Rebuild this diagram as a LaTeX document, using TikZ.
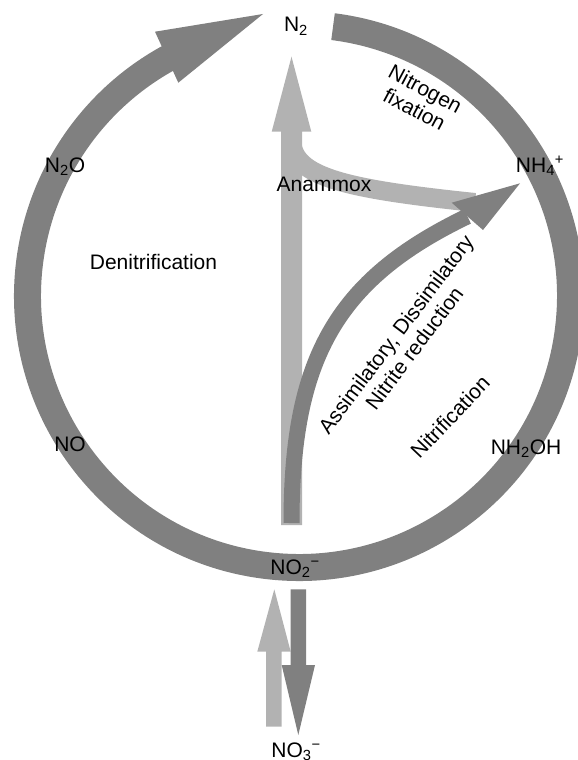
\documentclass[tikz,border=0pt]{standalone}
\usepackage{fontspec}
\setmainfont{Liberation Sans}
\definecolor{ringgray}{gray}{0.50}
\definecolor{palegray}{gray}{0.70}
\begin{document}
\begin{tikzpicture}[x=1pt,y=-1pt,
  lbl/.style={font=\fontsize{21}{23}\selectfont, inner sep=0pt, align=center},
  ringband/.style={draw=ringgray, line width=27pt},
  paleband/.style={draw=palegray, line width=19pt},
  darkband/.style={draw=ringgray, line width=16pt}]
\useasboundingbox (0,0) rectangle (578,760);

% centre of the nitrogen cycle ring
\coordinate (c) at (299,296);

% main ring, open at the top, with the denitrification arrowhead
\draw[ringband] (c) ++(-82.8:271.5) arc[start angle=-82.8, end angle=241.5, radius=271.5];
\coordinate (dtip) at (263,14);
\coordinate (dl) at (155,31.7);
\coordinate (dr) at (178.3,82.7);
\fill[ringgray] (dtip) -- (dl) -- (dr) -- cycle;

% anammox: vertical pale arrow up to N2 and its branch from NH4+
\fill[palegray] (281,525) -- (281,131.7) -- (271.7,131.7) -- (291.5,56.7)
  -- (311.3,131.7) -- (302,131.7) -- (302,525) -- cycle;
\draw[paleband] (291.5,138) .. controls (291.5,175) and (335,188) .. (475,202.5);

% nitrite reduction: dark curved arrow from NO2- to NH4+
\coordinate (rbase) at (467.4,216.4);
\draw[darkband] (291.5,523) .. controls (291.5,360) and (335,280) .. (rbase);
\fill[ringgray] (520,183.3) -- (451.7,202.7) -- (483,230) -- cycle;

% NO2- / NO3- exchange arrows
\fill[palegray] (266,726.7) -- (266,651.7) -- (257.3,651.7) -- (274.3,589.3)
  -- (290.7,651.7) -- (281.7,651.7) -- (281.7,726.7) -- cycle;
\fill[ringgray] (290.7,589.3) -- (290.7,665) -- (281.7,665) -- (298.3,735)
  -- (315,665) -- (306,665) -- (306,589.3) -- cycle;

% species
\node[lbl, anchor=base] (n2) at (296,32) {N\textsubscript{2}};
\node[lbl, anchor=base] (nh4) at (540,172) {NH\textsubscript{4}\textsuperscript{+}};
\node[lbl, anchor=base] (n2o) at (65,172) {N\textsubscript{2}O};
\node[lbl, anchor=base] (no) at (70,451) {NO};
\node[lbl, anchor=base] (nh2oh) at (526,454) {NH\textsubscript{2}OH};
\node[lbl, anchor=base] (no2) at (295,574) {NO\textsubscript{2}\textsuperscript{−}};
\node[lbl, anchor=base] (no3) at (296,757) {NO\textsubscript{3}\textsuperscript{−}};

% processes
\node[lbl, anchor=base] (anammox) at (324,191) {Anammox};
\node[lbl, anchor=base] (denit) at (153.5,269) {Denitrification};
\node[lbl, rotate=-28] (fix) at (420,99) {Nitrogen\\fixation};
\node[lbl, rotate=53] (red) at (405,341) {Assimilatory, Dissimilatory\\Nitrite reduction};
\node[lbl, rotate=46.5] (nitr) at (450,417) {Nitrification};
\end{tikzpicture}
\end{document}
